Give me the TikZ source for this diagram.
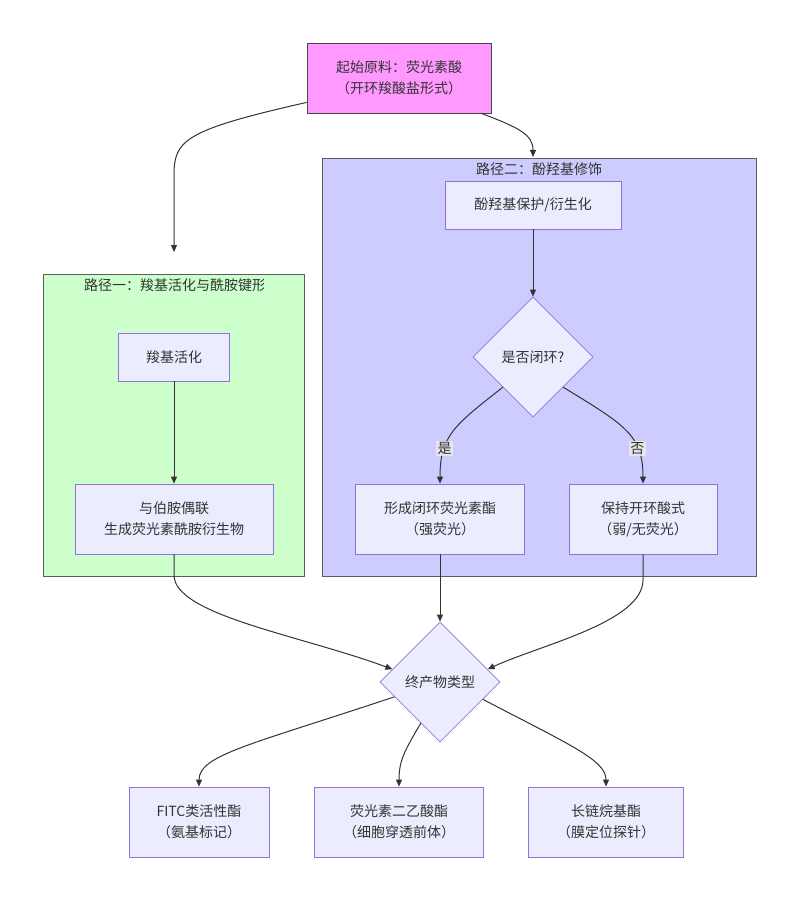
\documentclass[tikz,border=0pt]{standalone}
\usepackage{fontspec}
\setmainfont{Noto Sans CJK SC}
\usetikzlibrary{arrows.meta,shapes.geometric}
\definecolor{nodefill}{HTML}{ECECFF}
\definecolor{nodeline}{HTML}{9370DB}
\definecolor{startfill}{HTML}{FF99FF}
\definecolor{greenfill}{HTML}{CCFFCC}
\definecolor{bluefill}{HTML}{CCCCFF}
\definecolor{edgecol}{HTML}{333333}
\definecolor{textcol}{HTML}{333333}
\definecolor{lblfill}{HTML}{E8E8E8}
\tikzset{
  box/.style={draw=nodeline, fill=nodefill, line width=0.8pt, inner sep=0pt, align=center, text=textcol, font=\fontsize{14}{21}\selectfont},
  decision/.style={diamond, draw=nodeline, fill=nodefill, line width=0.8pt, inner sep=0pt, minimum width=120pt, minimum height=120pt, aspect=1, text=textcol, font=\fontsize{14}{21}\selectfont},
  group/.style={draw=edgecol!80, line width=0.8pt},
  grouptitle/.style={text=textcol, font=\fontsize{14}{18}\selectfont, inner sep=0pt},
  link/.style={draw=edgecol, line width=1pt, -{Triangle[length=7pt,width=6pt]}},
  edgelabel/.style={fill=lblfill, fill opacity=0.9, text opacity=1, text=textcol, font=\fontsize{14}{16}\selectfont, inner sep=1.5pt}
}
\begin{document}
\begin{tikzpicture}[x=1pt,y=-1pt]
\useasboundingbox (0,0) rectangle (800,901);
\fill[white] (0,0) rectangle (800,901);
% groups
\draw[group, fill=greenfill] (43,274) rectangle (304,576);
\draw[group, fill=bluefill] (322,158) rectangle (756,576);
\begin{scope}
\clip (44,275) rectangle (263,300);
\node[grouptitle, anchor=west] (g1t) at (84,285) {路径一：羧基活化与酰胺键形};
\end{scope}
\node[grouptitle] (g2t) at (539,169) {路径二：酚羟基修饰};
\coordinate (g1top) at (174,252);
\coordinate (g2top) at (533,157);
% nodes
\node[box, draw=edgecol!90, fill=startfill, minimum width=184pt, minimum height=70pt] (start) at (399,78) {起始原料：荧光素酸\\（开环羧酸盐形式）};
\node[box, minimum width=111pt, minimum height=48pt] (act) at (174,357) {羧基活化};
\node[box, minimum width=198pt, minimum height=70pt] (amine) at (174,519) {与伯胺偶联\\生成荧光素酰胺衍生物};
\node[box, minimum width=176pt, minimum height=48pt] (phen) at (533,205) {酚羟基保护/衍生化};
\node[decision] (ring) at (533,357) {是否闭环?};
\node[box, minimum width=169pt, minimum height=70pt] (closed) at (440,519) {形成闭环荧光素酯\\（强荧光）};
\node[box, minimum width=148pt, minimum height=70pt] (open) at (643,519) {保持开环酸式\\（弱/无荧光）};
\node[decision] (final) at (440,682) {终产物类型};
\node[box, minimum width=140pt, minimum height=70pt] (fitc) at (199,822) {FITC类活性酯\\（氨基标记）};
\node[box, minimum width=169pt, minimum height=70pt] (fda) at (399,822) {荧光素二乙酸酯\\（细胞穿透前体）};
\node[box, minimum width=155pt, minimum height=70pt] (alkyl) at (606,822) {长链烷基酯\\（膜定位探针）};
% edges
\draw[link] ([yshift=11pt]start.south west) .. controls (185,130) and (174,140) .. (174,175) -- (g1top);
\draw[link] ([xshift=-10pt]start.south east) .. controls (520,128) and (533,135) .. (g2top);
\draw[link] (act) -- (amine);
\draw[link] (phen) -- (ring);
\draw[link] (ring.225) .. controls (455,425) and (440,435) .. (closed.north) node[edgelabel, pos=0.7] (yes) {是};
\draw[link] (ring.-45) .. controls (625,425) and (643,435) .. (open.north) node[edgelabel, pos=0.7] (no) {否};
\draw[link] (amine.south) -- (174,575) .. controls (174,615) and (300,635) .. (final.165);
\draw[link] (closed) -- (final);
\draw[link] (open.south) -- (643,580) .. controls (643,622) and (540,645) .. (final.15);
\draw[link] (final.198) .. controls (250,745) and (199,755) .. (fitc.north);
\draw[link] (final.245) .. controls (405,750) and (399,760) .. (fda.north);
\draw[link] (final.-22) .. controls (570,745) and (606,760) .. (alkyl.north);
\end{tikzpicture}
\end{document}
